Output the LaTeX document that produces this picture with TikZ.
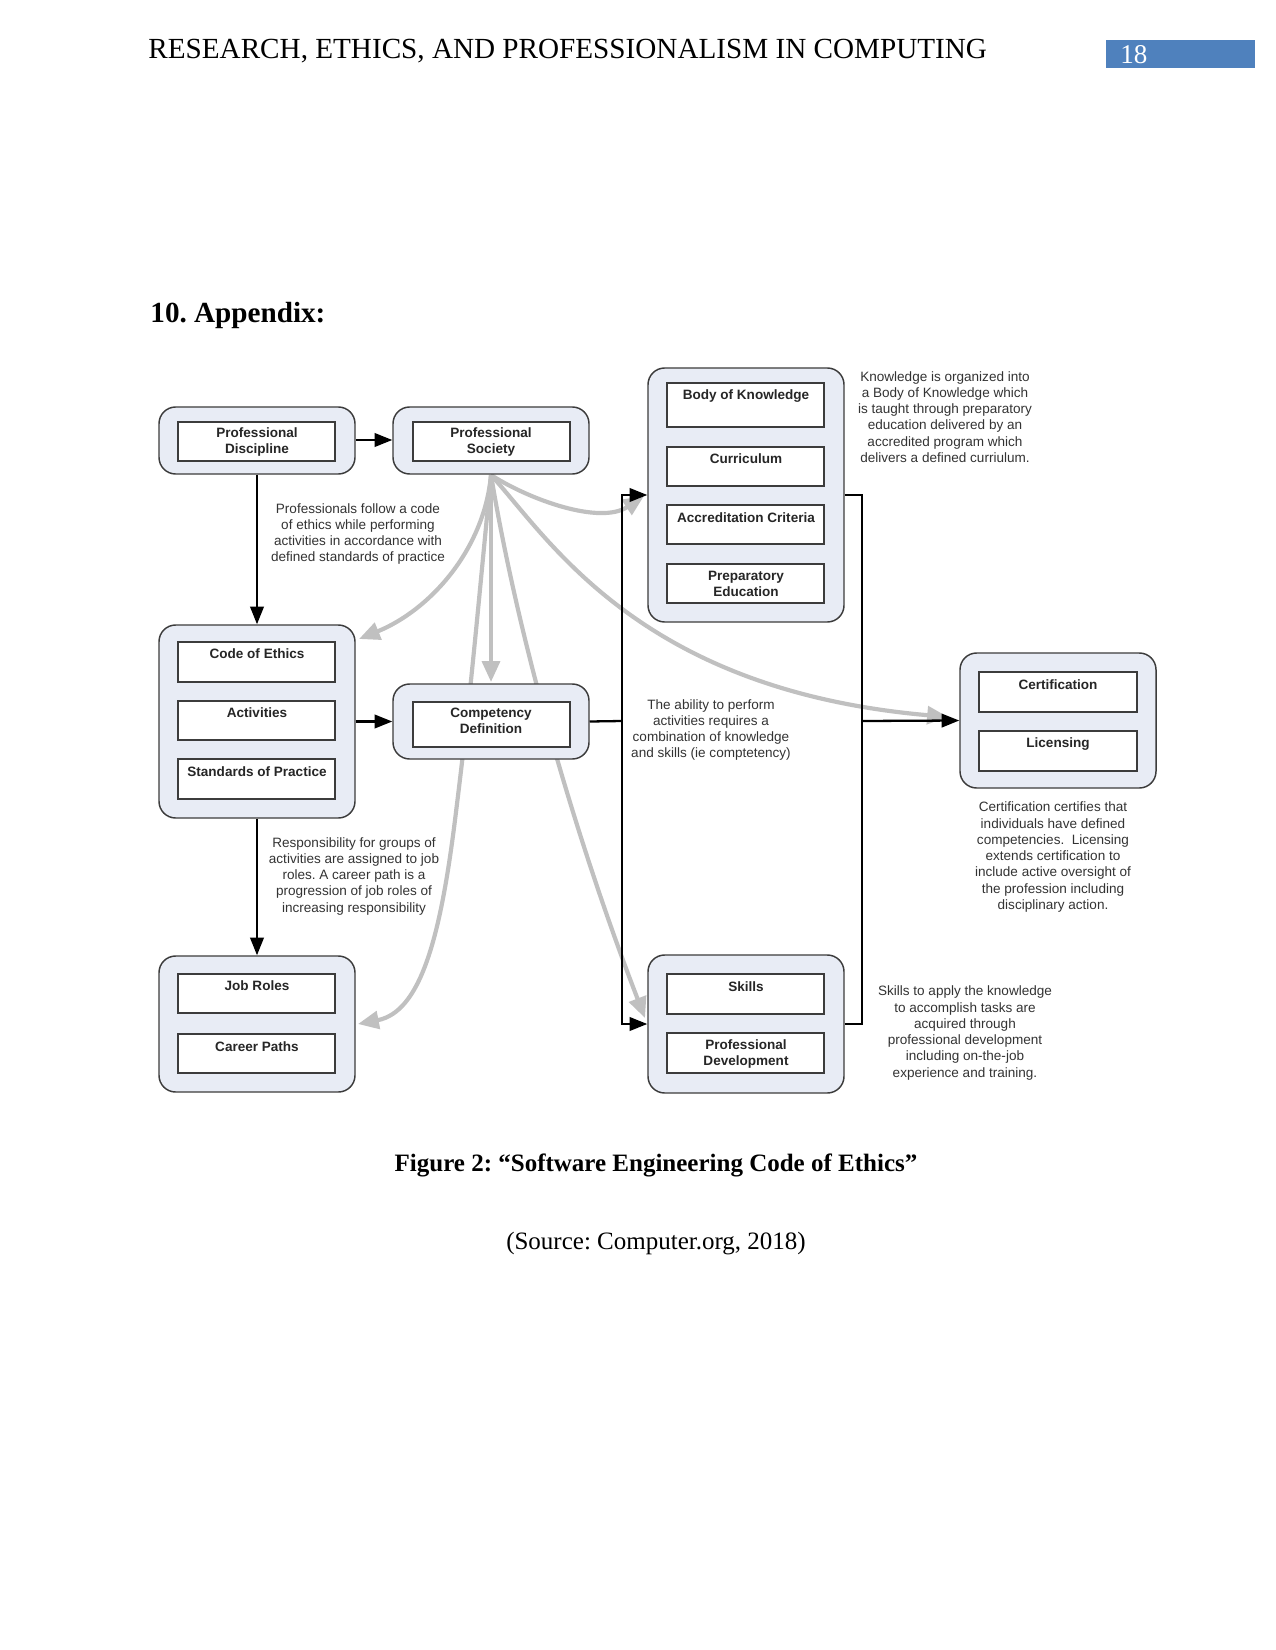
\documentclass[tikz,border=0pt]{standalone}
\usepackage{fontspec}
\setmainfont{Liberation Serif}
\newfontfamily\arial{Liberation Sans}
\usetikzlibrary{arrows.meta,fit}
\definecolor{grpfill}{RGB}{232,236,245}
\definecolor{grpline}{RGB}{60,60,60}
\definecolor{conngray}{RGB}{192,192,192}
\definecolor{annot}{RGB}{51,51,51}
\definecolor{pgblue}{RGB}{79,129,189}
\frenchspacing
\begin{document}
\begin{tikzpicture}[x=0.48pt,y=-0.48pt,
  grp/.style={draw=grpline, fill=grpfill, line width=0.7pt, rounded corners=8pt, inner sep=0pt},
  ibox/.style={draw=grpline, fill=white, line width=0.8pt, inner sep=0pt},
  lbl/.style={font=\arial\bfseries\fontsize{6.5}{7.6}\selectfont, text=black!85, align=center, inner sep=0pt},
  ann/.style={font=\arial\fontsize{6.5}{7.8}\selectfont, text=annot, align=center, inner sep=0pt},
  arr/.style={line width=1.1pt, -{Triangle[length=8.5pt,width=6.5pt]}},
  blk/.style={line width=1.1pt},
  garr/.style={draw=conngray, line width=2pt, -{Triangle[length=10pt,width=8.5pt]}}
]
\fill[white] (0,0) rectangle (1275,1650);
\useasboundingbox (0,0) rectangle (1275,1650);

% page header
\node[anchor=base west, font=\fontsize{14}{16}\selectfont, inner sep=0pt] (hdr) at (148,59) {RESEARCH, ETHICS, AND PROFESSIONALISM IN COMPUTING};
\node[fill=pgblue, inner sep=0pt, fit={(1106,40) (1255,68)}] (pgbox) {};
\node[anchor=west, text=white, font=\fontsize{13}{15}\selectfont, inner sep=0pt] (pgnum) at (1120,55) {18};
\node[anchor=west, font=\bfseries\fontsize{14}{16}\selectfont, inner sep=0pt] (app) at (150,315) {10. Appendix:};

% coordinates for free ends
\coordinate (psb) at (491,475);
\coordinate (g1e) at (644,496);
\coordinate (g2e) at (359,639);
\coordinate (g5e) at (645,1018);
\coordinate (g6e) at (948,717);

% gray connectors (behind)
\draw[garr] (psb) .. controls (530,500) and (600,525) .. (g1e);
\draw[garr] (psb) .. controls (484,550) and (430,610) .. (g2e);
\draw[garr] (psb) .. controls (550,540) and (640,690) .. (g6e);
\draw[garr] (psb) .. controls (520,650) and (580,850) .. (g5e);
\draw[garr] (psb) .. controls (475,640) and (470,700) .. (455,820) .. controls (440,940) and (420,1012) .. (358,1024);
\draw[garr] (psb) -- (491,682);

% groups
\node[grp, fit={(159,407) (355,474)}] (pd) {};
\node[grp, fit={(393,407) (589,474)}] (ps) {};
\node[grp, fit={(648,368) (844,622)}] (bok) {};
\node[grp, fit={(159,625) (355,818)}] (coe) {};
\node[grp, fit={(393,684) (589,759)}] (cd) {};
\node[grp, fit={(960,653) (1156,788)}] (cert) {};
\node[grp, fit={(159,956) (355,1092)}] (jr) {};
\node[grp, fit={(648,955) (844,1093)}] (sk) {};

% inner boxes
\node[ibox, fit={(178,422) (335,461)}] (pdi) {};
\node[ibox, fit={(413,422) (570,461)}] (psi) {};
\node[ibox, fit={(667,383) (824,427)}] (bok1) {};
\node[ibox, fit={(667,447) (824,486)}] (bok2) {};
\node[ibox, fit={(667,505) (824,544)}] (bok3) {};
\node[ibox, fit={(667,564) (824,603)}] (bok4) {};
\node[ibox, fit={(178,642) (335,682)}] (coe1) {};
\node[ibox, fit={(178,701) (335,740)}] (coe2) {};
\node[ibox, fit={(178,759) (335,799)}] (coe3) {};
\node[ibox, fit={(413,702) (570,747)}] (cdi) {};
\node[ibox, fit={(979,672) (1137,712)}] (cert1) {};
\node[ibox, fit={(979,731) (1137,771)}] (cert2) {};
\node[ibox, fit={(178,974) (335,1013)}] (jr1) {};
\node[ibox, fit={(178,1034) (335,1073)}] (jr2) {};
\node[ibox, fit={(667,974) (824,1014)}] (sk1) {};
\node[ibox, fit={(667,1033) (824,1073)}] (sk2) {};

% labels
\node[lbl] (tpd) at (257,442) {Professional\\Discipline};
\node[lbl] (tps) at (491,442) {Professional\\Society};
\node[lbl] (tbok1) at (746,396) {Body of Knowledge};
\node[lbl] (tbok2) at (746,459) {Curriculum};
\node[lbl] (tbok3) at (746,518) {Accreditation Criteria};
\node[lbl] (tbok4) at (746,584) {Preparatory\\Education};
\node[lbl] (tcoe1) at (257,654) {Code of Ethics};
\node[lbl] (tcoe2) at (257,713) {Activities};
\node[lbl] (tcoe3) at (257,772) {Standards of Practice};
\node[lbl] (tcd) at (491,721) {Competency\\Definition};
\node[lbl] (tcert1) at (1058,685) {Certification};
\node[lbl] (tcert2) at (1058,744) {Licensing};
\node[lbl] (tjr1) at (257,986) {Job Roles};
\node[lbl] (tjr2) at (257,1047) {Career Paths};
\node[lbl] (tsk1) at (746,987) {Skills};
\node[lbl] (tsk2) at (746,1054) {Professional\\Development};

% annotations
\node[ann] (a1) at (358,534) {Professionals follow a code\\of ethics while performing\\activities in accordance with\\defined standards of practice};
\node[ann] (a2) at (945,417) {Knowledge is organized into\\a Body of Knowledge which\\is taught through preparatory\\education delivered by an\\accredited program which\\delivers a defined curriulum.};
\node[ann] (a3) at (711,730) {The ability to perform\\activities requires a\\combination of knowledge\\and skills (ie comptetency)};
\node[ann] (a4) at (354,876) {Responsibility for groups of\\activities are assigned to job\\roles. A career path is a\\progression of job roles of\\increasing responsibility};
\node[ann] (a5) at (1053,857) {Certification certifies that\\individuals have defined\\competencies.\ \ Licensing\\extends certification to\\include active oversight of\\the profession including\\disciplinary action.};
\node[ann] (a6) at (965,1033) {Skills to apply the knowledge\\to accomplish tasks are\\acquired through\\professional development\\including on-the-job\\experience and training.};

% black connectors
\coordinate (j1) at (622,721);
\coordinate (j2) at (862,721);
\draw[arr] (pd.east |- 0,440) -- (ps.west |- 0,440);
\draw[arr] (pd.south -| 257,0) -- (coe.north -| 257,0);
\draw[arr] (coe.east) -- (cd.west);
\draw[arr] (coe.south -| 257,0) -- (jr.north -| 257,0);
\draw[blk] (cd.east) -- (j1);
\draw[arr] (j1) |- (bok.west);
\draw[arr] (j1) |- (sk.west);
\draw[blk] (bok.east) -| (j2);
\draw[blk] (sk.east) -| (j2);
\draw[arr] (j2) -- (cert.west);

% caption
\node[font=\bfseries\fontsize{12}{14}\selectfont, inner sep=0pt] (cap) at (656,1165) {Figure 2: “Software Engineering Code of Ethics”};
\node[font=\fontsize{12}{14}\selectfont, inner sep=0pt] (src) at (656,1244) {(Source: Computer.org, 2018)};
\end{tikzpicture}
\end{document}
